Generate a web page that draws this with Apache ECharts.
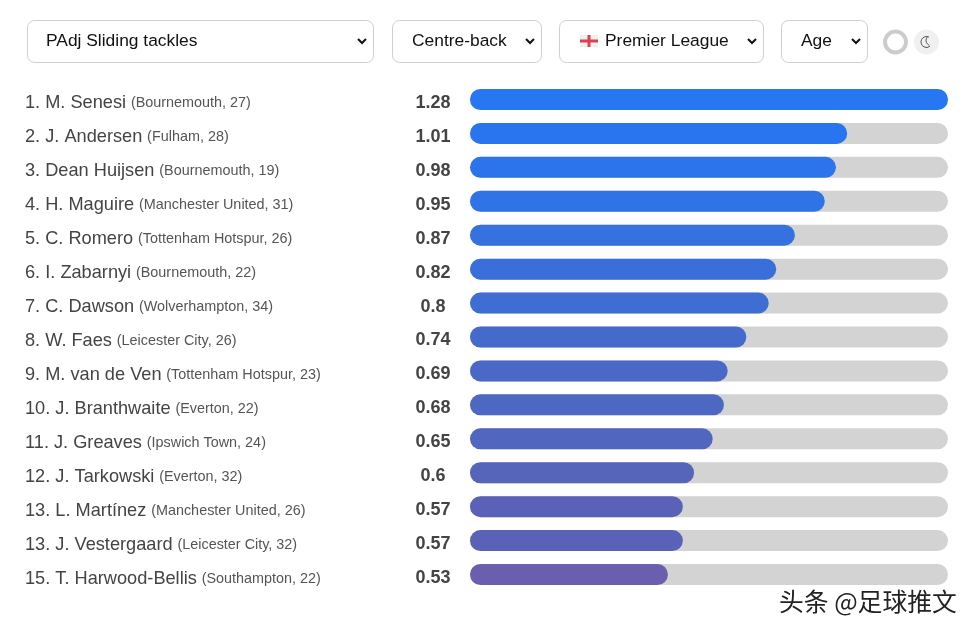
<!DOCTYPE html>
<html><head><meta charset="utf-8">
<style>html,body{margin:0;padding:0;background:#fff}#c{width:976px;height:633px}</style>
<script src="https://cdn.jsdelivr.net/npm/echarts@6/dist/echarts.min.js"></script>
</head><body><div id="c"></div>
<script>
const ranks = [1,2,3,4,5,6,7,8,9,10,11,12,13,13,15];
const players = ['M. Senesi','J. Andersen','Dean Huijsen','H. Maguire','C. Romero','I. Zabarnyi','C. Dawson','W. Faes','M. van de Ven','J. Branthwaite','J. Greaves','J. Tarkowski','L. Martínez','J. Vestergaard','T. Harwood-Bellis'];
const teams = ['Bournemouth','Fulham','Bournemouth','Manchester United','Tottenham Hotspur','Bournemouth','Wolverhampton','Leicester City','Tottenham Hotspur','Everton','Ipswich Town','Everton','Manchester United','Leicester City','Southampton'];
const ages = [27,28,19,31,26,22,34,26,23,22,24,32,26,32,22];
const values = [1.28,1.01,0.98,0.95,0.87,0.82,0.8,0.74,0.69,0.68,0.65,0.6,0.57,0.57,0.53];
const barColors = ['#2776f2','#2975ef','#2c74eb','#2f73e6','#3571df','#3a6fd9','#3e6ed4','#446bcc','#4a69c6','#4d68c3','#5166bf','#5664b9','#5a62b8','#5a62b8','#6a5fae'];
const selects = [
  {x:27,w:346,tx:46,label:'PAdj Sliding tackles'},
  {x:392,w:149,tx:412,label:'Centre-back'},
  {x:559,w:204,tx:605,label:'Premier League'},
  {x:781,w:86,tx:801,label:'Age'}
];

const cats = players.map((p,i)=>ranks[i]+'. '+p+'|('+teams[i]+', '+ages[i]+')');
const graphic = [];
selects.forEach(s=>{
  graphic.push({type:'rect',shape:{x:s.x+.5,y:20.5,width:s.w,height:42,r:7},style:{fill:'#fff',stroke:'#cfcfcf',lineWidth:1}});
  graphic.push({type:'text',x:s.tx,y:41.5,style:{text:s.label,fill:'#111',font:'17.4px "Liberation Sans"',textAlign:'left',textVerticalAlign:'middle'}});
  const cx=s.x+s.w-11;
  graphic.push({type:'polyline',shape:{points:[[cx-4,39],[cx,43],[cx+4,39]]},style:{fill:'none',stroke:'#111',lineWidth:2}});
});
graphic.push(
  {type:'rect',shape:{x:580,y:35,width:18,height:12},style:{fill:'#f1eeee'}},
  {type:'rect',shape:{x:580,y:39.5,width:18,height:3},style:{fill:'#d9424e'}},
  {type:'rect',shape:{x:587.5,y:35,width:3,height:12},style:{fill:'#d9424e'}},
  {type:'circle',shape:{cx:895.5,cy:42,r:10.5},style:{fill:'#fff',stroke:'#cccccc',lineWidth:4}},
  {type:'circle',shape:{cx:926.5,cy:42,r:12.5},style:{fill:'#f0f0f0'}},
  {type:'arc',shape:{cx:926.5,cy:42,r:5.5,startAngle:-1.1,endAngle:0.9,clockwise:false},style:{fill:'none',stroke:'#555',lineWidth:1}},
  {type:'arc',shape:{cx:931,cy:40.5,r:5,startAngle:-2.4,endAngle:1.9,clockwise:false},style:{fill:'none',stroke:'#555',lineWidth:1}},
  {type:'text',x:779,y:602,style:{text:'头条 @足球推文',fill:'#222',font:'24.8px "Noto Sans CJK SC"',textVerticalAlign:'middle'}}
);

const chart = echarts.init(document.getElementById('c'));
chart.setOption({
  animation:false,
  backgroundColor:'#fff',
  grid:{left:470,top:82.5,width:478,height:509,containLabel:false},
  xAxis:{type:'value',min:0,max:1.28,show:false},
  yAxis:[
    {type:'category',inverse:true,data:cats,position:'left',
     axisLine:{show:false},axisTick:{show:false},
     axisLabel:{margin:445,align:'left',padding:[8,0,0,0],interval:0,
       formatter:v=>{const [a,b]=v.split('|');return '{n|'+a+'} {t|'+b+'}';},
       rich:{n:{fontSize:18.2,color:'#444',fontFamily:'Liberation Sans'},t:{fontSize:14.4,color:'#555',fontFamily:'Liberation Sans',padding:[0,0,0,1.5]}}}},
    {type:'category',inverse:true,data:values.map(String),position:'left',
     axisLine:{show:false},axisTick:{show:false},
     axisLabel:{margin:37,align:'center',interval:0,
       formatter:v=>'{v|'+v+'}',
       rich:{v:{fontSize:18,fontWeight:'bold',color:'#444',fontFamily:'Liberation Sans',padding:[7,0,0,0]}}}}
  ],
  series:[{type:'bar',yAxisIndex:0,barWidth:21,
    data:values.map((v,i)=>({value:v,itemStyle:{color:barColors[i]}})),
    itemStyle:{borderRadius:10.5},
    showBackground:true,backgroundStyle:{color:'#d3d3d3',borderRadius:10.5}}],
  graphic:graphic
});
</script></body></html>
